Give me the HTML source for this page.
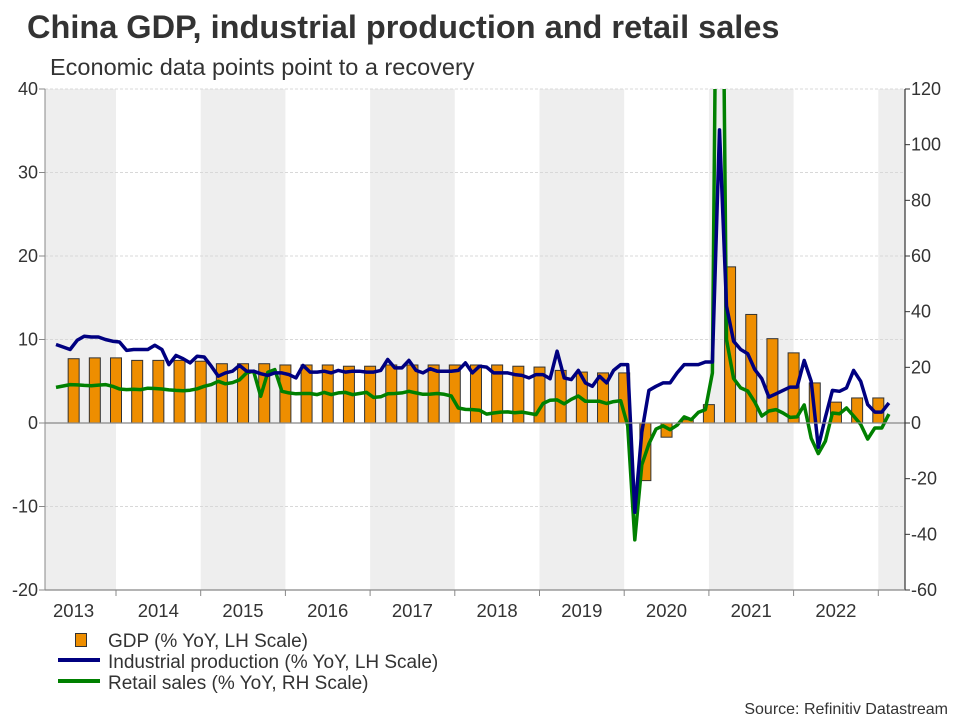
<!DOCTYPE html>
<html><head><meta charset="utf-8"><style>
html,body{margin:0;padding:0;background:#fff;}
svg{display:block;font-family:"Liberation Sans",Arial,sans-serif;}
</style></head><body>
<svg id="chart" width="960" height="720" viewBox="0 0 960 720">
<text x="27" y="38" font-size="32.5" font-weight="bold" fill="#333">China GDP, industrial production and retail sales</text>
<text x="50" y="75" font-size="23.5" fill="#333">Economic data points point to a recovery</text>
<defs><clipPath id="plotclip"><rect x="45" y="89" width="860" height="501"/></clipPath></defs>
<g id="bands"></g>
<g id="grid"></g>
<g id="bars" clip-path="url(#plotclip)"></g>
<g id="lines" clip-path="url(#plotclip)"></g>
<g id="axes"></g>
<g>
 <g><rect x="75.5" y="633.5" width="11" height="13" fill="#EE8E00" stroke="#333"/><text x="108" y="647" font-size="19" fill="#333">GDP (% YoY, LH Scale)</text></g>
 <g><line x1="58" y1="660" x2="100" y2="660" stroke="#000080" stroke-width="4"/><text x="108" y="668" font-size="19" fill="#333">Industrial production (% YoY, LH Scale)</text></g>
 <g><line x1="58" y1="681" x2="100" y2="681" stroke="#008000" stroke-width="4"/><text x="108" y="689" font-size="19" fill="#333">Retail sales (% YoY, RH Scale)</text></g>
</g>
<text x="948" y="714" font-size="16" fill="#333" text-anchor="end">Source: Refinitiv Datastream</text>
</svg>
<script>
const years = [2013,2014,2015,2016,2017,2018,2019,2020,2021,2022];
const leftTicks = [40,30,20,10,0,-10,-20];
const rightTicks = [120,100,80,60,40,20,0,-20,-40,-60];
// GDP quarterly from 2013 Q2 to 2022 Q4
const gdp = [7.7,7.8,7.8, 7.5,7.5,7.5,7.4, 7.1,7.1,7.1,6.95, 6.95,6.95,6.8,6.8, 6.95,6.95,6.95,6.95, 6.95,6.95,6.8,6.7, 6.3,6.1,6.0,6.0, -6.9,-1.7,0.4,2.2, 18.7,13.0,10.1,8.4, 4.8,2.5,3.0,3.0];
// Industrial production monthly from Apr 2013 to Feb 2023
const ip = [9.4,9.1,8.8,9.9,10.4,10.3,10.3,10.0,9.8,9.7,8.7,8.8,8.8,8.8,9.3,8.8,7.0,8.1,7.7,7.2,8.0,7.9,6.8,5.6,6.0,6.2,6.9,6.2,6.2,5.9,5.7,6.0,6.0,5.8,5.4,6.9,6.1,6.1,6.2,6.0,6.3,6.1,6.2,6.2,6.1,6.1,6.3,
7.6,6.6,6.6,7.5,6.3,6.0,6.5,6.2,6.2,6.2,6.3,7.2,6.0,6.8,6.7,6.0,6.0,6.0,5.8,5.7,5.4,5.8,5.8,5.3,8.6,5.4,5.2,6.3,4.8,4.4,5.6,4.8,6.3,7.0,7.0,
-10.7,-1.1,3.9,4.4,4.8,4.8,6.0,7.0,7.0,7.0,7.3,7.3,35.1,14.0,9.8,8.8,8.3,6.4,5.3,3.1,3.5,3.9,4.3,4.3,7.5,5.0,-2.9,0.7,3.9,3.8,4.2,6.3,5.0,2.2,1.3,1.3,2.4];
// Retail sales monthly from Apr 2013 to Feb 2023 (RH scale)
const retail = [12.8,13.3,13.8,13.7,13.5,13.4,13.6,13.8,13.2,12.2,12.0,12.1,12.0,12.5,12.4,12.2,11.9,11.7,11.6,11.8,12.3,13.2,13.8,15.0,14.1,14.5,15.5,18.0,18.6,9.6,18.2,19.2,11.4,10.8,10.5,10.6,10.6,10.2,11.0,10.2,10.8,11.0,10.2,10.6,11.0,9.2,9.4,
10.5,10.6,10.8,11.4,10.8,10.3,10.4,10.6,10.3,9.7,5.4,4.9,4.8,4.6,3.2,3.6,3.9,4.0,3.7,3.9,3.5,3.0,7.0,8.2,8.3,6.9,8.5,9.7,7.8,7.8,7.8,7.0,7.7,8.0,-1.0,
-42,-15,-7.5,-2.2,-1.0,-2.4,-0.8,2.2,1.2,3.8,4.8,18,300,30,16,12.6,11.5,7.5,2.5,4.3,4.8,3.6,2.0,2.2,6.5,-5.5,-11,-6.5,3.6,3.3,5.4,2.5,-0.5,-5.8,-1.8,-1.8,3.2];

const NS='http://www.w3.org/2000/svg';
const X0=45,X1=905,Y0=89,Y1=590;
function xT(t){return 31.3+(t-2013)*84.7;}
function yL(v){return Y0+(40-v)*(Y1-Y0)/60;}
function yR(v){return Y0+(120-v)*(Y1-Y0)/180;}
function mk(tag,attrs,parent){const e=document.createElementNS(NS,tag);for(const k in attrs)e.setAttribute(k,attrs[k]);parent.appendChild(e);return e;}
const bands=document.getElementById('bands'),grid=document.getElementById('grid'),bars=document.getElementById('bars'),lines=document.getElementById('lines'),axes=document.getElementById('axes');

for(let y=2013;y<=2023;y+=2){
  const a=Math.max(X0,xT(y)),b=Math.min(X1,xT(y+1));
  const r=mk('rect',{x:a,y:Y0,width:b-a,height:Y1-Y0,fill:'#eeeeee'},bands);
  
  
}
leftTicks.forEach(v=>{
  if(v===0||v===-20)return;
  const l=mk('line',{x1:X0,x2:X1,y1:yL(v),y2:yL(v),stroke:'#d8d8d8','stroke-dasharray':'3,2','stroke-width':1},grid);
  
  
});
gdp.forEach((v,i)=>{
  const t=2013.5+i*0.25;
  const cx=xT(t);
  const y=Math.min(yL(v),yL(0)),h=Math.abs(yL(v)-yL(0));
  const r=mk('rect',{x:cx-5.5,y:y,width:11,height:h,fill:'#EE8E00',stroke:'#333','stroke-width':1},bars);
  
  
});
const z=mk('line',{x1:X0,x2:X1,y1:yL(0),y2:yL(0),stroke:'#888','stroke-width':1.2},axes);


function tm(k){return 2013+(3+k+0.5)/12;}
function pathOf(arr,yf){return arr.map((v,k)=>(k?'L':'M')+xT(tm(k)).toFixed(1)+','+yf(v).toFixed(1)).join(' ');}
const rp=mk('path',{d:pathOf(retail,yR),fill:'none',stroke:'#008000','stroke-width':3.5,'stroke-linejoin':'round'},lines);


const ipp=mk('path',{d:pathOf(ip,yL),fill:'none',stroke:'#000080','stroke-width':3.5,'stroke-linejoin':'round'},lines);


const la=mk('line',{x1:X0,x2:X0,y1:Y0,y2:Y1,stroke:'#888','stroke-width':1},axes);


const ra=mk('line',{x1:X1,x2:X1,y1:Y0,y2:Y1,stroke:'#333','stroke-width':1.2},axes);


const ba=mk('line',{x1:X0,x2:X1,y1:Y1,y2:Y1,stroke:'#888','stroke-width':1.2},axes);


leftTicks.forEach(v=>{
  const t=mk('text',{x:38,y:yL(v)+6,'font-size':18,fill:'#333','text-anchor':'end'},axes);t.textContent=v;
  
  
  const tk=mk('line',{x1:X0-6,x2:X0,y1:yL(v),y2:yL(v),stroke:'#888'},axes);
  
  
});
rightTicks.forEach(v=>{
  const t=mk('text',{x:911,y:yR(v)+6,'font-size':18,fill:'#333'},axes);t.textContent=v;
  
  
  const tk=mk('line',{x1:X1,x2:X1+5,y1:yR(v),y2:yR(v),stroke:'#333'},axes);
  
  
});
years.forEach(y=>{
  const tk=mk('line',{x1:xT(y+1),x2:xT(y+1),y1:Y1,y2:Y1+6,stroke:'#888'},axes);
  
  
  const t=mk('text',{x:xT(y)+42.3,y:617,'font-size':18.5,fill:'#333','text-anchor':'middle'},axes);t.textContent=y;
  
  
});
</script>
</body></html>
